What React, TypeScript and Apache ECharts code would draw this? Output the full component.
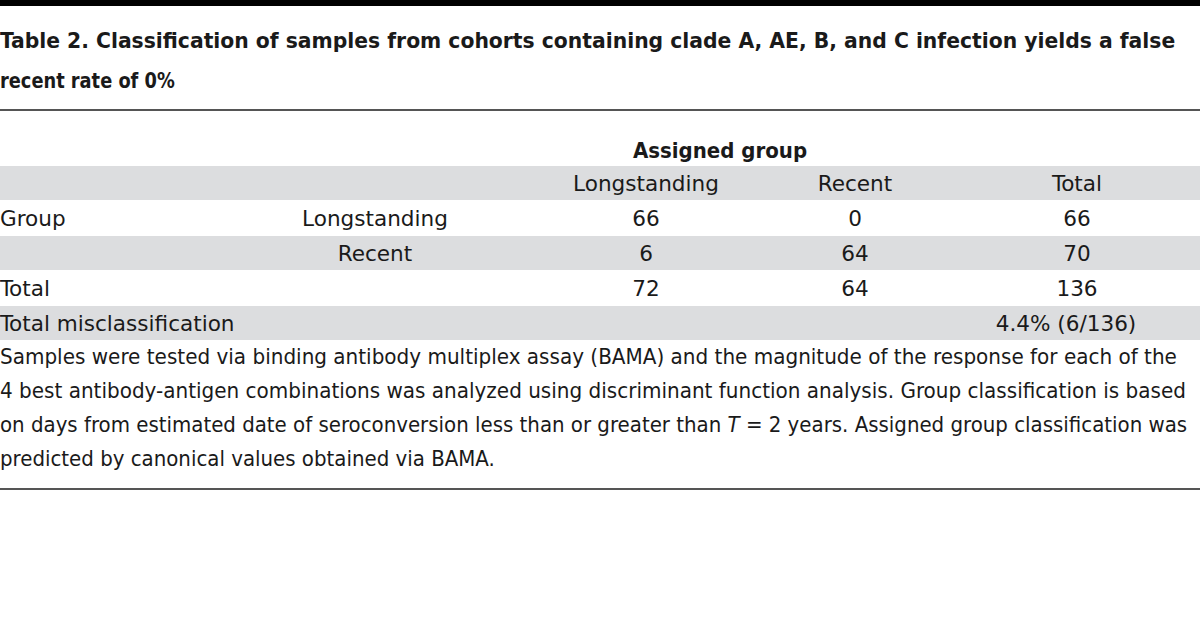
import React, { useEffect, useRef } from "react";
import * as echarts from "echarts";

const TITLE_LINES = [
  "Table 2. Classification of samples from cohorts containing clade A, AE, B, and C infection yields a false",
  "recent rate of 0%",
];
const SPANNER = "Assigned group";
const COL_HEADERS = ["Longstanding", "Recent", "Total"];
const ROW_LABELS = ["Group", "", "Total", "Total misclassification"];
const ROW_SUBLABELS = ["Longstanding", "Recent", "", ""];
const ROW_LONGSTANDING = ["66", "6", "72", ""];
const ROW_RECENT = ["0", "64", "64", ""];
const ROW_TOTAL = ["66", "70", "136", "4.4% (6/136)"];
const FOOTNOTE = [
  "Samples were tested via binding antibody multiplex assay (BAMA) and the magnitude of the response for each of the",
  "4 best antibody-antigen combinations was analyzed using discriminant function analysis. Group classification is based",
  "on days from estimated date of seroconversion less than or greater than {i|T} = 2 years. Assigned group classification was",
  "predicted by canonical values obtained via BAMA.",
];
const FOOTNOTE_SCALE = [1.01, 1.01, 1.0, 1.0];

const FONT = "'DejaVu Sans Condensed', 'DejaVu Sans', sans-serif";
const FS = 22;
const TEXT = "#1a1a1a";
const BAND = "#dcdddf";

export default function App() {
  const ref = useRef<HTMLDivElement>(null);
  useEffect(() => {
    if (!ref.current) return;
    const chart = echarts.init(ref.current, null, { renderer: "svg" });
    const g: any[] = [];
    const W = 1200;
    g.push({ type: "rect", shape: { x: 0, y: 0, width: W, height: 6 }, style: { fill: "#000" } });
    TITLE_LINES.forEach((t, i) => {
      g.push({
        type: "text", x: 0, y: 40 + i * 41, scaleX: i === 0 ? 1.028 : 0.9,
        style: { text: t, font: `bold ${FS}px ${FONT}`, fill: TEXT, verticalAlign: "middle", align: "left" },
      });
    });
    g.push({ type: "rect", shape: { x: 0, y: 109, width: W, height: 2 }, style: { fill: "#555" } });
    g.push({
      type: "text", x: 720, y: 150, scaleX: 1.0,
      style: { text: SPANNER, font: `bold ${FS}px ${FONT}`, fill: TEXT, verticalAlign: "middle", align: "center" },
    });
    const rowTop0 = 166;
    const rowH = 35;
    const colX = [646, 855, 1077];
    const subX = 375;
    [0, 2, 4].forEach((r) => {
      g.push({ type: "rect", shape: { x: 0, y: rowTop0 + r * rowH, width: W, height: rowH - 1 }, style: { fill: BAND } });
    });
    const cell = (text: string, x: number, y: number, align: string) => {
      if (!text) return;
      g.push({
        type: "text", x, y, scaleX: 1.09,
        style: { text, font: `${FS}px ${FONT}`, fill: TEXT, verticalAlign: "middle", align },
      });
    };
    COL_HEADERS.forEach((h, c) => cell(h, colX[c], rowTop0 + rowH / 2, "center"));
    const cols = [ROW_LONGSTANDING, ROW_RECENT, ROW_TOTAL];
    ROW_LABELS.forEach((lab, r) => {
      const y = rowTop0 + (r + 1) * rowH + rowH / 2;
      cell(lab, 0, y, "left");
      cell(ROW_SUBLABELS[r], subX, y, "center");
      cols.forEach((col, c) => {
        const x = r === 3 && c === 2 ? colX[c] - 11 : colX[c];
        cell(col[r], x, y, "center");
      });
    });
    FOOTNOTE.forEach((t, i) => {
      g.push({
        type: "text", x: 0, y: 356 + i * 34, scaleX: FOOTNOTE_SCALE[i],
        style: {
          text: t, font: `${FS}px ${FONT}`, fill: TEXT, verticalAlign: "middle", align: "left",
          rich: { i: { fontStyle: "italic", fontSize: FS, fontFamily: FONT, fill: TEXT } },
        },
      });
    });
    g.push({ type: "rect", shape: { x: 0, y: 488, width: W, height: 2 }, style: { fill: "#555" } });
    chart.setOption({ animation: false, graphic: { elements: g } });
    return () => chart.dispose();
  }, []);
  return <div ref={ref} style={{ position: "fixed", left: 0, top: 0, width: 1200, height: 618, background: "#fff" }} />;
}
